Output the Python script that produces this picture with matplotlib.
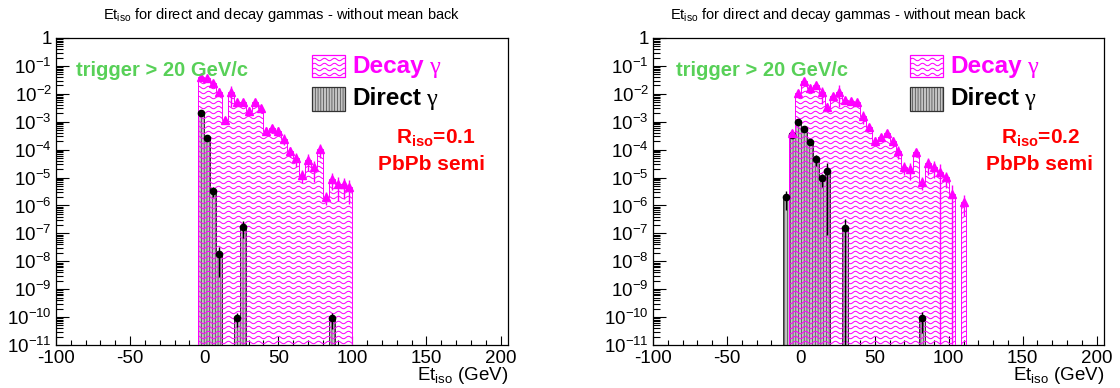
import numpy as np
import matplotlib
matplotlib.use("Agg")
import matplotlib.pyplot as plt
from matplotlib.collections import LineCollection
from matplotlib.patches import Rectangle
from matplotlib.ticker import LogLocator, MultipleLocator, FuncFormatter, NullFormatter
from matplotlib.transforms import IdentityTransform

plt.rcParams['font.family'] = ['Liberation Sans', 'DejaVu Sans']
plt.rcParams['mathtext.fontset'] = 'custom'
plt.rcParams['mathtext.rm'] = 'Liberation Sans'
plt.rcParams['mathtext.bf'] = 'Liberation Sans:bold'
plt.rcParams['mathtext.it'] = 'Liberation Sans:italic'
plt.rcParams['mathtext.default'] = 'regular'
plt.rcParams['axes.unicode_minus'] = False
plt.rcParams['hatch.linewidth'] = 0.45

# ---------------------------------------------------------------- data
bin_width = 4.0

# R_iso = 0.1
left_decay_first_edge = -4.0
left_decay = [3.9e-2, 3.6e-2, 2.5e-2, 1.2e-2, 1.15e-3, 1.12e-2, 5.2e-3, 5.2e-3,
              2.5e-3, 4.9e-3, 3.0e-3, 4.8e-4, 5.8e-4, 4.8e-4, 2.5e-4, 9.1e-5,
              4.9e-5, 1.23e-5, 4.3e-5, 2.3e-5, 1.02e-4, 2.0e-6, 8.9e-6, 5.9e-6,
              5.9e-6, 4.5e-6]
left_decay_relerr = [0.1, 0.1, 0.15, 0.3, 0.3, 0.7, 0.2, 0.2, 0.3, 0.2, 0.3, 0.3,
                     0.3, 0.3, 0.4, 0.4, 0.5, 0.5, 0.6, 0.7, 0.5, 0.5, 0.6, 0.75,
                     0.7, 0.75]
left_direct_first_edge = -4.0
left_direct = [2.0e-3, 2.7e-4, 3.3e-6, 1.8e-8, 0, 0, 9e-11, 1.7e-7, 0, 0, 0, 0,
               0, 0, 0, 0, 0, 0, 0, 0, 0, 0, 9e-11, 0, 0, 0]
left_direct_relerr = [0.1, 0.2, 0.4, 0.85, 0, 0, 0.5, 0.6, 0, 0, 0, 0,
                      0, 0, 0, 0, 0, 0, 0, 0, 0, 0, 0.6, 0, 0, 0]

# R_iso = 0.2
right_decay_first_edge = -8.0
right_decay = [3.8e-4, 1.05e-2, 2.95e-2, 1.58e-2, 2.1e-2, 1.12e-2, 3.5e-3, 8.1e-3,
               1.17e-2, 6.0e-3, 5.6e-3, 5.2e-3, 1.66e-3, 6.6e-4, 2.1e-4, 2.9e-4,
               4.0e-4, 2.0e-4, 9.1e-5, 2.4e-5, 2.1e-5, 7.9e-5, 7.1e-6, 3.2e-5,
               2.45e-5, 1.58e-5, 1.02e-5, 2.6e-6, 0, 1.35e-6]
right_decay_relerr = [0.3, 0.1, 0.1, 0.2, 0.15, 0.6, 0.3, 0.3, 0.7, 0.3, 0.2, 0.2,
                      0.5, 0.3, 0.3, 0.3, 0.3, 0.4, 0.5, 0.5, 0.6, 0.3, 0.5, 0.6,
                      0.6, 1.0, 0.6, 1.0, 0, 0.7]
right_direct_first_edge = -12.0
right_direct = [1.95e-6, 3.3e-4, 1.0e-3, 5.4e-4, 1.9e-4, 4.5e-5, 9.3e-6, 1.7e-5,
                0, 0, 1.6e-7, 0, 0, 0, 0, 0, 0, 0, 0, 0, 0, 0, 0, 9e-11]
right_direct_relerr = [0.65, 0.2, 0.1, 0.1, 0.2, 0.4, 0.5, 0.995,
                       0, 0, 1.0, 0, 0, 0, 0, 0, 0, 0, 0, 0, 0, 0, 0, 0.7]

x_range = (-100, 205)
y_range = (1e-11, 1.0)
x_major_ticks = [-100, -50, 0, 50, 100, 150, 200]

title_text = r"Et$_{iso}$ for direct and decay gammas - without mean back"
xlabel_text = r"Et$_{iso}$ (GeV)"
trigger_text = "trigger > 20 GeV/c"
system_text = "PbPb semi"
riso_values = ["0.1", "0.2"]

# ---------------------------------------------------------------- style
W, H = 1120, 388
MAGENTA = "#ff00ff"
RED = "#ff0000"
GREEN = "#58d058"
DIRECT_FACE = "#c4c4c4"
DIRECT_HATCH = "||||||"

fig = plt.figure(figsize=(W / 100, H / 100), dpi=100)
fig.patch.set_facecolor("white")


def fx(x):
    return x / W


def fy(y):
    return 1 - y / H


def rect_from_px(x0, y0, x1, y1):
    return [x0 / W, 1 - y1 / H, (x1 - x0) / W, (y1 - y0) / H]


def wavy_fill(ax, x0, y0, x1, y1, clip_patch, color):
    """Wavy hatch lines in display space, clipped to a patch."""
    xs = np.arange(x0, x1 + 0.5, 0.5)
    segs = []
    for yr in np.arange(y0 + 2.5, y1, 5.0):
        ys = yr + 1.2 * np.sin(2 * np.pi * (xs - x0) / 10.0)
        segs.append(np.column_stack([xs, ys]))
    lc = LineCollection(segs, colors=color, linewidths=0.75,
                        transform=IdentityTransform())
    ax.add_collection(lc, autolim=False)
    lc.set_clip_path(clip_patch)
    return lc


def log_label(v, pos):
    e = int(round(np.log10(v)))
    if e == 0:
        return "1"
    return r"$10^{%d}$" % e


def draw_errors(ax, centers, vals, rel, color, marker, ms):
    vals = np.asarray(vals, float)
    rel = np.asarray(rel, float)
    ok = vals > 0
    c, v, r = centers[ok], vals[ok], rel[ok]
    lower = np.maximum(v * (1 - r), y_range[0] * 0.5)
    upper = v * (1 + r)
    ax.errorbar(c, v, yerr=[v - lower, upper - v], fmt=marker, color=color,
                ms=ms, elinewidth=1.0, capsize=0, zorder=5)


panels = [
    dict(rect=(56, 38, 508, 345),
         decay=left_decay, decay_err=left_decay_relerr, decay_lo=left_decay_first_edge,
         direct=left_direct, direct_err=left_direct_relerr, direct_lo=left_direct_first_edge,
         riso=riso_values[0], title_x=282, leg_x=312, trig_x=76, r_x=436, sys_x=431),
    dict(rect=(653, 38, 1104, 345),
         decay=right_decay, decay_err=right_decay_relerr, decay_lo=right_decay_first_edge,
         direct=right_direct, direct_err=right_direct_relerr, direct_lo=right_direct_first_edge,
         riso=riso_values[1], title_x=849, leg_x=910, trig_x=676, r_x=1041, sys_x=1039),
]

renderer = fig.canvas.get_renderer()

for p in panels:
    ax = fig.add_axes(rect_from_px(*p["rect"]))
    ax.set_xlim(*x_range)
    ax.set_yscale("log")
    ax.set_ylim(*y_range)
    base = y_range[0]

    # direct photons: grey stippled histogram
    dvals = np.asarray(p["direct"], float)
    dedges = p["direct_lo"] + bin_width * np.arange(len(dvals) + 1)
    dcent = 0.5 * (dedges[:-1] + dedges[1:])
    ax.stairs(np.where(dvals > 0, dvals, base), dedges, baseline=base, fill=True,
              facecolor=DIRECT_FACE, edgecolor="#333333", hatch=DIRECT_HATCH,
              linewidth=0.7, zorder=2)

    # decay photons: magenta wavy-hatched histogram
    cvals = np.asarray(p["decay"], float)
    cedges = p["decay_lo"] + bin_width * np.arange(len(cvals) + 1)
    ccent = 0.5 * (cedges[:-1] + cedges[1:])
    clip = ax.stairs(np.where(cvals > 0, cvals, base), cedges, baseline=base,
                     fill=True, facecolor="none", edgecolor="none", zorder=3)
    ax.stairs(np.where(cvals > 0, cvals, base), cedges, baseline=base,
              fill=False, color=MAGENTA, linewidth=0.7, zorder=3)
    x0, y0, x1, y1 = ax.bbox.extents
    wavy_fill(ax, x0, y0, x1, y1, clip, MAGENTA).set_zorder(3)

    draw_errors(ax, dcent, dvals, p["direct_err"], "black", "o", 4.5)
    draw_errors(ax, ccent, cvals, p["decay_err"], MAGENTA, "^", 5.5)

    # axes frame and ticks
    for s in ax.spines.values():
        s.set_linewidth(0.9)
    ax.xaxis.set_major_locator(plt.FixedLocator(x_major_ticks))
    ax.xaxis.set_minor_locator(MultipleLocator(10))
    ax.yaxis.set_major_locator(LogLocator(base=10, numticks=20))
    ax.yaxis.set_minor_locator(LogLocator(base=10, subs=np.arange(2, 10), numticks=20))
    ax.yaxis.set_major_formatter(FuncFormatter(log_label))
    ax.yaxis.set_minor_formatter(NullFormatter())
    ax.tick_params(axis="both", which="both", direction="in", top=False, right=False,
                   width=0.8, labelsize=13.5)
    ax.tick_params(axis="y", which="major", length=9.5, pad=3)
    ax.tick_params(axis="y", which="minor", length=4.8)
    ax.tick_params(axis="x", which="major", length=6.5, pad=3.5)
    ax.tick_params(axis="x", which="minor", length=3.3)

    # titles and labels
    fig.text(fx(p["title_x"]), fy(19.5), title_text, ha="center", va="baseline",
             fontsize=10.5)
    fig.text(fx(p["rect"][2]), fy(380), xlabel_text, ha="right", va="baseline",
             fontsize=13.5)

    fig.text(fx(p["trig_x"]), fy(76), trigger_text, ha="left", va="baseline",
             fontsize=14.5, fontweight="bold", color=GREEN)

    # legend entries
    lx = p["leg_x"]
    box_d = Rectangle((fx(lx), fy(77)), fx(33), 22 / H, transform=fig.transFigure,
                      facecolor="white", edgecolor=MAGENTA, linewidth=0.9, zorder=6)
    ax.add_patch(box_d)
    bx0, by0, bx1, by1 = box_d.get_window_extent(renderer).extents
    wavy_fill(ax, bx0, by0, bx1, by1, box_d, MAGENTA).set_zorder(7)
    box_r = Rectangle((fx(lx), fy(111)), fx(33), 24 / H, transform=fig.transFigure,
                      facecolor=DIRECT_FACE, edgecolor="#333333", hatch=DIRECT_HATCH,
                      linewidth=0.9, zorder=6)
    ax.add_patch(box_r)

    for label, color, base_y in (("Decay", MAGENTA, 73.5), ("Direct", "black", 105.5)):
        t = fig.text(fx(lx + 40), fy(base_y), label, ha="left", va="baseline",
                     fontsize=17.5, fontweight="bold", color=color)
        bb = t.get_window_extent(renderer)
        fig.text(fx(bb.x1 + 5), fy(base_y), "\u03b3", ha="left", va="baseline",
                 fontsize=17.5, color=color, family=["Liberation Serif", "DejaVu Serif"])

    fig.text(fx(p["r_x"]), fy(144), r"$\mathbf{R_{iso}}$=%s" % p["riso"], ha="center",
             va="baseline", fontsize=15, fontweight="bold", color=RED)
    fig.text(fx(p["sys_x"]), fy(170), system_text, ha="center", va="baseline",
             fontsize=15, fontweight="bold", color=RED)

fig.savefig("out.png", dpi=100)
